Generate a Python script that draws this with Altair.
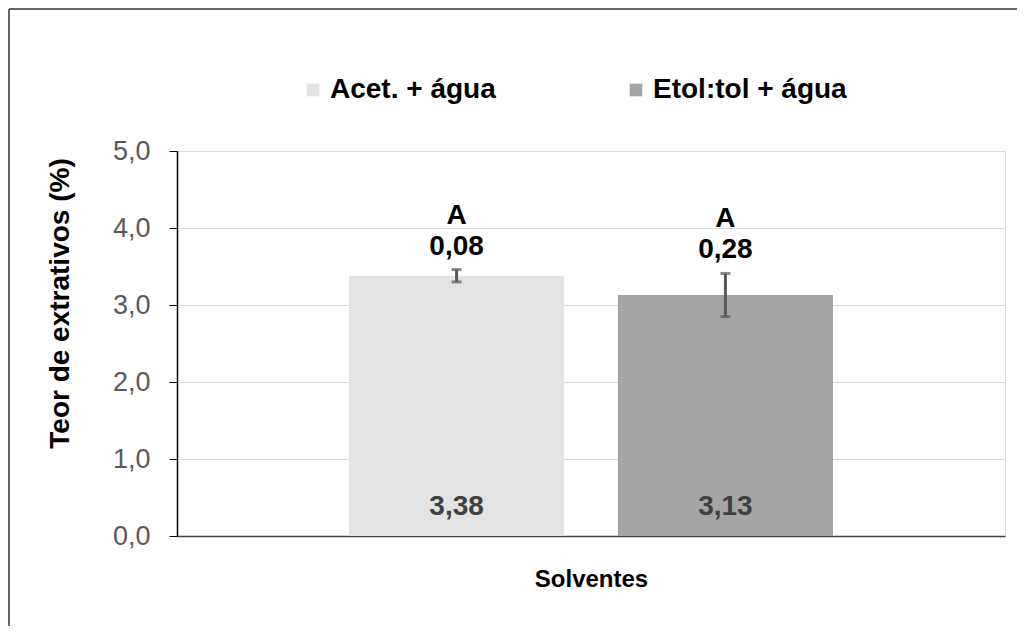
import altair as alt
import pandas as pd

series = ["Acet. + água", "Etol:tol + água"]
means = [3.38, 3.13]
sds = [0.08, 0.28]
letters = ["A", "A"]
colors = ["#e3e3e3", "#a5a5a5"]
y_ticks = [0, 1, 2, 3, 4, 5]

df = pd.DataFrame({"serie": series, "media": means, "dp": sds, "letra": letters})
df["lo"] = df["media"] - df["dp"]
df["hi"] = df["media"] + df["dp"]

W, H = 828, 385
FONT = "Liberation Sans"

base = alt.Chart(df)

xenc = alt.X(
    "serie:N",
    sort=series,
    scale=alt.Scale(paddingInner=0.2, paddingOuter=0.64),
    axis=alt.Axis(labels=False, ticks=False, title="Solventes", titleFontSize=24,
                  titleFont=FONT, titleFontWeight="bold", titleColor="#000000",
                  titlePadding=31, domainColor="#404040", domainWidth=1.5, grid=False),
)

bars = base.mark_bar().encode(
    x=xenc,
    y=alt.Y("media:Q", scale=alt.Scale(domain=[0, 5]),
            axis=alt.Axis(values=y_ticks, labelExpr="replace(format(datum.value, '.1f'), '.', ',')",
                          title="Teor de extrativos (%)", titleFont=FONT, titleFontSize=28,
                          titleFontWeight="bold", titleColor="#000000",
                          titleX=-117, titleY=152, titleAlign="center", titleBaseline="middle",
                          labelFont=FONT, labelFontSize=27, labelColor="#595959", labelPadding=19,
                          tickSize=8, tickColor="#000000", domainColor="#000000", domainWidth=1.5,
                          gridColor="#d9d9d9", gridWidth=1)),
    color=alt.Color("serie:N", sort=series,
                    scale=alt.Scale(domain=series, range=colors),
                    legend=alt.Legend(title=None, orient="none", direction="horizontal",
                                      legendX=122, legendY=-75, symbolType="square",
                                      symbolSize=160, symbolStrokeWidth=0, labelFont=FONT,
                                      labelFontSize=28, labelFontWeight="bold", labelColor="#000000",
                                      labelOffset=3, columnPadding=126, labelLimit=400)),
)

err = base.mark_rule(color="#595959", strokeWidth=3).encode(
    x=alt.X("serie:N", sort=series), y="lo:Q", y2="hi:Q")
cap_lo = base.mark_tick(color="#595959", thickness=3, size=10).encode(
    x=alt.X("serie:N", sort=series), y="lo:Q")
cap_hi = base.mark_tick(color="#595959", thickness=3, size=10).encode(
    x=alt.X("serie:N", sort=series), y="hi:Q")

sd_text = base.transform_calculate(
    lbl="replace(format(datum.dp, '.2f'), '.', ',')"
).mark_text(font=FONT, fontSize=28, fontWeight="bold", color="#000000", baseline="middle", dy=-23).encode(
    x=alt.X("serie:N", sort=series), y="hi:Q", text="lbl:N")

letter_text = base.mark_text(font=FONT, fontSize=28, fontWeight="bold", color="#000000",
                             baseline="middle", dy=-54).encode(
    x=alt.X("serie:N", sort=series), y="hi:Q", text="letra:N")

val_text = base.transform_calculate(
    lbl="replace(format(datum.media, '.2f'), '.', ',')", zero="0"
).mark_text(font=FONT, fontSize=28, fontWeight="bold", color="#404040", baseline="middle", dy=-29).encode(
    x=alt.X("serie:N", sort=series), y="zero:Q", text="lbl:N")

one = pd.DataFrame({"k": [0]})
border_top = alt.Chart(one).mark_rule(color="#333333", strokeWidth=1.5).encode(
    x=alt.value(-168), x2=alt.value(850), y=alt.value(-142))
border_left = alt.Chart(one).mark_rule(color="#333333", strokeWidth=1.5).encode(
    x=alt.value(-168), y=alt.value(-142), y2=alt.value(520))

chart = alt.layer(
    bars, err, cap_lo, cap_hi, sd_text, letter_text, val_text, border_top, border_left
).properties(
    width=W, height=H,
    autosize=alt.AutoSizeParams(type="none"),
    padding={"left": 169, "top": 143, "right": 12, "bottom": 90},
).configure_view(stroke=None).configure(background="#ffffff")

chart.save("out.html", embed_options={"renderer": "svg", "actions": False})
